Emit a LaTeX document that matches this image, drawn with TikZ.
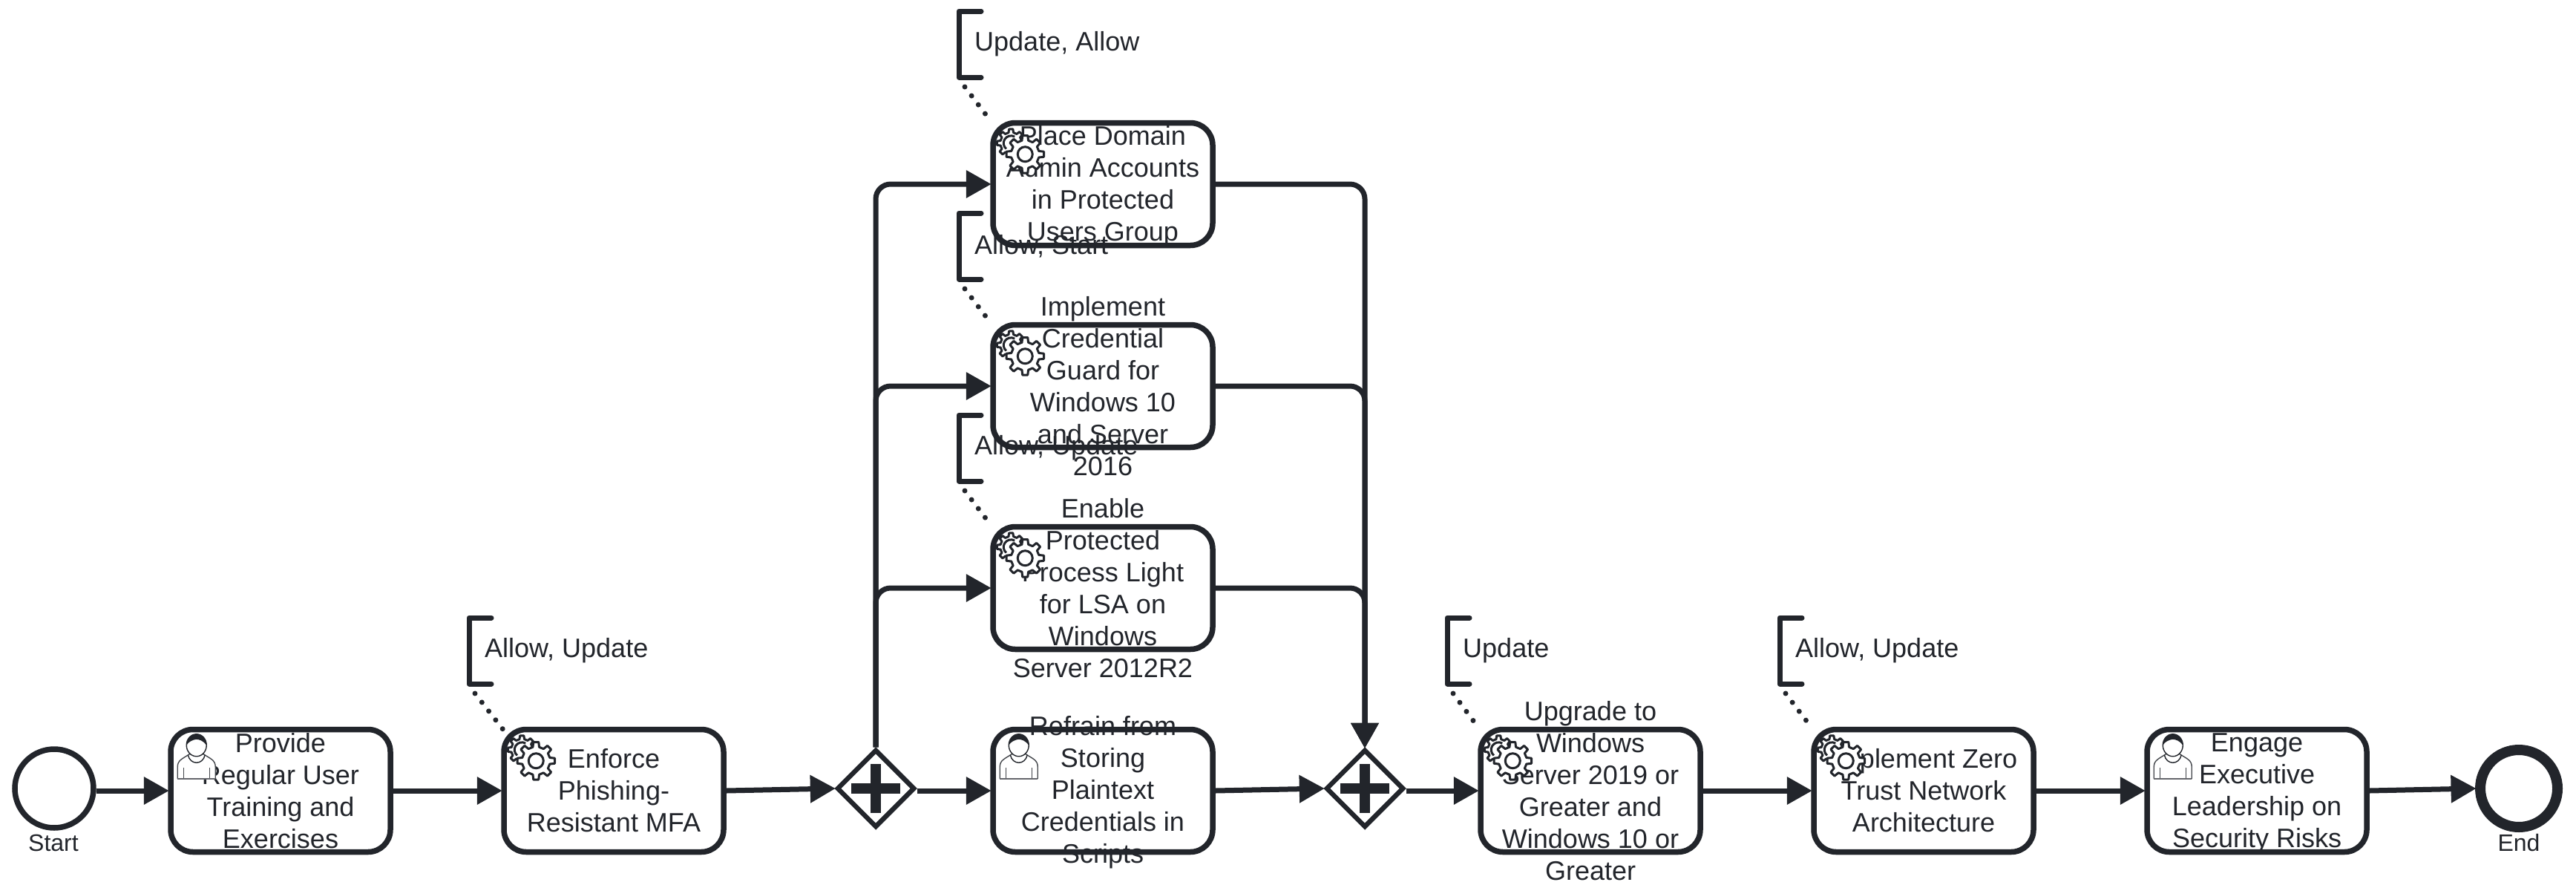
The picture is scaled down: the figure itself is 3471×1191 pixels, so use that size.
\documentclass[tikz,border=0pt]{standalone}
\usepackage{fontspec}
\setmainfont{Liberation Sans}
\usetikzlibrary{arrows.meta,shapes.geometric}
\definecolor{ink}{HTML}{22252B}
\tikzset{
  task/.style={draw=ink,line width=7.5pt,rounded corners=30pt,fill=white,minimum width=296pt,minimum height=165pt,inner sep=0pt},
  gate/.style={draw=ink,line width=6.5pt,diamond,aspect=1,fill=white,minimum width=105pt,minimum height=105pt,inner sep=0pt},
  startev/.style={draw=ink,line width=7.5pt,circle,fill=white,minimum size=106pt,inner sep=0pt},
  endev/.style={draw=ink,line width=14pt,circle,fill=white,minimum size=104pt,inner sep=0pt},
  flow/.style={draw=ink,line width=7pt,-{Triangle[length=34pt,width=36pt]},shorten >=-1.5pt,rounded corners=20pt},
  plusbar/.style={draw=ink,line width=14pt},
  bracketline/.style={draw=ink,line width=7pt,line cap=round,line join=round},
  assoc/.style={draw=ink,line width=7pt,line cap=round,dash pattern=on 0.01pt off 15.1pt},
  annot/.style={minimum width=30pt,minimum height=89pt,inner sep=0pt,outer sep=0pt,anchor=north west},
  lbl/.style={font=\fontsize{36}{43}\selectfont,text=ink,align=center,inner sep=0pt},
  small/.style={font=\fontsize{32}{38}\selectfont,text=ink,inner sep=0pt},
  pics/gearicon/.style={code={
    \draw[draw=ink,line width=3pt,fill=white,line join=round] (-13:14.5)
      foreach \a in {0,45,...,315} { -- (\a-13:14.5) -- (\a-8:19) -- (\a+8:19) -- (\a+13:14.5) } -- cycle;
    \draw[draw=ink,line width=3pt] (5,-8.6) arc (60:230:10pt);
    \begin{scope}[shift={(19,15)}]
      \draw[draw=ink,line width=3pt,fill=white,line join=round] (-13:19)
        foreach \a in {0,45,...,315} { -- (\a-13:19) -- (\a-8:25.5) -- (\a+8:25.5) -- (\a+13:19) } -- cycle;
      \draw[draw=ink,line width=3pt,fill=white] (0,0) circle (10pt);
    \end{scope}
  }},
  pics/usericon/.style={code={
    \draw[draw=ink!85,line width=1.4pt,fill=white,line join=round]
      (13,70) -- (13,54) .. controls (13,45) and (20,43) .. (29,37) -- (48,37)
      .. controls (57,43) and (64,45) .. (64,54) -- (64,70) -- cycle;
    \draw[draw=ink,line width=1.4pt,fill=white] (38.5,25) ellipse (13.5pt and 15pt);
    \fill[ink] (25,25) .. controls (25,5) and (52,5) .. (52,25) .. controls (48,19) and (42,17) .. (38,17) .. controls (33,18) and (28,20) .. (25,25) -- cycle;
    \draw[draw=ink,line width=1.4pt] (27,38) .. controls (30,52) and (47,52) .. (50,38);
    \draw[draw=ink!85,line width=1.4pt] (21,55) -- (21,70) (56,55) -- (56,70);
    \draw[draw=ink!70,line width=2.2pt] (13,70) -- (64,70);
  }}
}
\begin{document}
\begin{tikzpicture}[x=1pt,y=-1pt]
\useasboundingbox[fill=white] (0,0) rectangle (3471,1191);
% shapes
\node[startev] (start) at (73,1062) {};
\node[task] (provide) at (378,1065) {};
\node[task] (enforce) at (827,1065) {};
\node[gate] (gw1) at (1180,1062) {};
\node[task] (place) at (1486,248) {};
\node[task] (cred) at (1486,520) {};
\node[task] (enable) at (1486,792) {};
\node[task] (refrain) at (1486,1065) {};
\node[gate] (gw2) at (1839,1062) {};
\node[task] (upgrade) at (2143,1065) {};
\node[task] (zero) at (2592,1065) {};
\node[task] (engage) at (3041,1065) {};
\node[endev] (end) at (3394,1062) {};
% plus marks
\draw[plusbar] ([xshift=-33pt]gw1.center) -- ([xshift=33pt]gw1.center);
\draw[plusbar] ([yshift=-33pt]gw1.center) -- ([yshift=33pt]gw1.center);
\draw[plusbar] ([xshift=-33pt]gw2.center) -- ([xshift=33pt]gw2.center);
\draw[plusbar] ([yshift=-33pt]gw2.center) -- ([yshift=33pt]gw2.center);
% flows
\draw[flow] (start.east |- provide.west) -- (provide.west);
\draw[flow] (provide.east) -- (enforce.west);
\draw[flow] (enforce.east) -- (gw1.west);
\draw[flow] (gw1.east |- refrain.west) -- (refrain.west);
\draw[flow] (gw1.north) |- (place.west);
\draw[flow] (gw1.north) |- (cred.west);
\draw[flow] (gw1.north) |- (enable.west);
\draw[flow] (place.east) -| (gw2.north);
\draw[flow] (cred.east) -| (gw2.north);
\draw[flow] (enable.east) -| (gw2.north);
\draw[flow] (refrain.east) -- (gw2.west);
\draw[flow] (gw2.east |- upgrade.west) -- (upgrade.west);
\draw[flow] (upgrade.east) -- (zero.west);
\draw[flow] (zero.east) -- (engage.west);
\draw[flow] (engage.east) -- (end.west);
% annotations
\node[annot] (a1) at (1292,15) {};
\node[annot] (a2) at (1292,287) {};
\node[annot] (a3) at (1292,559) {};
\node[annot] (a4) at (632,832) {};
\node[annot] (a5) at (1950,832) {};
\node[annot] (a6) at (2398,832) {};
\foreach \n in {a1,a2,a3,a4,a5,a6}{
  \draw[bracketline] (\n.north east) -- (\n.north west) -- (\n.south west) -- (\n.south east);
}
\draw[assoc] ([shift={(8pt,-13pt)}]a1.south west) -- ([shift={(2pt,-3pt)}]place.north west);
\draw[assoc] ([shift={(8pt,-13pt)}]a2.south west) -- ([shift={(2pt,-3pt)}]cred.north west);
\draw[assoc] ([shift={(8pt,-13pt)}]a3.south west) -- ([shift={(2pt,-3pt)}]enable.north west);
\draw[assoc] ([shift={(8pt,-13pt)}]a4.south west) -- ([shift={(2pt,-3pt)}]enforce.north west);
\draw[assoc] ([shift={(8pt,-13pt)}]a5.south west) -- ([shift={(2pt,-3pt)}]upgrade.north west);
\draw[assoc] ([shift={(8pt,-13pt)}]a6.south west) -- ([shift={(2pt,-3pt)}]zero.north west);
\node[lbl,anchor=west] (a1t) at ([xshift=21pt]a1.west) {Update, Allow};
\node[lbl,anchor=west] (a2t) at ([xshift=21pt]a2.west) {Allow, Start};
\node[lbl,anchor=west] (a3t) at ([xshift=21pt]a3.west) {Allow, Update};
\node[lbl,anchor=west] (a4t) at ([xshift=21pt]a4.west) {Allow, Update};
\node[lbl,anchor=west] (a5t) at ([xshift=21pt]a5.west) {Update};
\node[lbl,anchor=west] (a6t) at ([xshift=21pt]a6.west) {Allow, Update};
% labels
\node[small] (startt) at (72,1135) {Start};
\node[small] (endt) at (3394,1135) {End};
\node[lbl] (providet) at (provide.center) {Provide\\Regular User\\Training and\\Exercises};
\node[lbl] (enforcet) at (enforce.center) {Enforce\\Phishing-\\Resistant MFA};
\node[lbl] (placet) at ([yshift=-3pt]place.center) {Place Domain\\Admin Accounts\\in Protected\\Users Group};
\node[lbl] (credt) at (cred.center) {Implement\\Credential\\Guard for\\Windows 10\\and Server\\2016};
\node[lbl] (enablet) at (enable.center) {Enable\\Protected\\Process Light\\for LSA on\\Windows\\Server 2012R2};
\node[lbl] (refraint) at ([yshift=-2pt]refrain.center) {Refrain from\\Storing\\Plaintext\\Credentials in\\Scripts};
\node[lbl] (upgradet) at (upgrade.center) {Upgrade to\\Windows\\Server 2019 or\\Greater and\\Windows 10 or\\Greater};
\node[lbl] (zerot) at (zero.center) {Implement Zero\\Trust Network\\Architecture};
\node[lbl] (engaget) at ([yshift=-3pt]engage.center) {Engage\\Executive\\Leadership on\\Security Risks};
% icons
\pic at ([shift={(28pt,-31pt)}]place.north west) {gearicon};
\pic at ([shift={(28pt,-31pt)}]cred.north west) {gearicon};
\pic at ([shift={(28pt,-31pt)}]enable.north west) {gearicon};
\pic at ([shift={(28pt,-31pt)}]enforce.north west) {gearicon};
\pic at ([shift={(28pt,-31pt)}]upgrade.north west) {gearicon};
\pic at ([shift={(28pt,-31pt)}]zero.north west) {gearicon};
\pic at (provide.north west) {usericon};
\pic at (refrain.north west) {usericon};
\pic at (engage.north west) {usericon};
\end{tikzpicture}
\end{document}
